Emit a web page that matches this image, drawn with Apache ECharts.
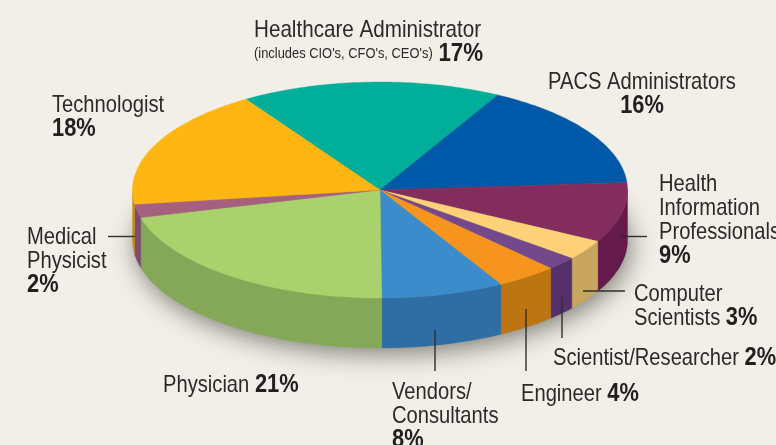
<!DOCTYPE html>
<html>
<head>
<meta charset="utf-8">
<style>
  html, body { margin: 0; padding: 0; background: #f1efe8; overflow: hidden; }
  #chart { width: 776px; height: 445px; }
</style>
<script src="https://cdn.jsdelivr.net/npm/echarts@6/dist/echarts.min.js"></script>
</head>
<body>
<div id="chart"></div>
<script>
// clockwise from the top-left edge of Healthcare Administrator
const categories = ["Healthcare Administrator", "PACS Administrators", "Health Information Professionals",
  "Computer Scientists", "Scientist/Researcher", "Engineer", "Vendors/Consultants", "Physician",
  "Medical Physicist", "Technologist"];
const shares = [17, 16, 9, 3, 2, 4, 8, 21, 2, 18];
const topColors = ["#00ae9a", "#0059a8", "#822d5e", "#ffd27a", "#73498c", "#f7941e", "#3c8ccc", "#a9d16c", "#a56080", "#ffb612"];
const wallColors = ["#008c7c", "#004787", "#641a4b", "#c8a65f", "#56306b", "#bd7412", "#2f6da5", "#84a858", "#7e4a6e", "#c48e12"];

/* ----------------------- PIE GEOMETRY ----------------------- */
const CX = 380, CY = 190, RX = 247.5, RY = 108, DEPTH = 50;
const START_DEG = 122.8;
const total = shares.reduce((a, b) => a + b, 0);

function sliceAngles(i) {
  const before = shares.slice(0, i).reduce((a, b) => a + b, 0);
  const toDeg = (v) => echarts.number.linearMap(v, [0, total], [START_DEG, START_DEG - 360]);
  return [toDeg(before), toDeg(before + shares[i])];
}

function rimPoint(deg, dy) {
  const t = (deg * Math.PI) / 180;
  return [CX + RX * Math.cos(t), CY - RY * Math.sin(t) + (dy || 0)];
}

function renderTop(params) {
  const [a, b] = sliceAngles(params.dataIndex);
  const pts = [[CX, CY]];
  for (let d = a; d > b; d -= 1) pts.push(rimPoint(d));
  pts.push(rimPoint(b));
  const c = topColors[params.dataIndex];
  return { type: "polygon", shape: { points: pts }, style: { fill: c, stroke: c, lineWidth: 0.4 } };
}

// outer wall: only the part of the rim facing the viewer (angles -180..0)
function renderWall(params) {
  let [a, b] = sliceAngles(params.dataIndex);
  a = Math.min(a, 0);
  b = Math.max(b, -180);
  if (a <= b) return null;
  const front = [], back = [];
  for (let d = a; d > b; d -= 1) {
    front.push(rimPoint(d));
    back.push(rimPoint(d, DEPTH));
  }
  front.push(rimPoint(b));
  back.push(rimPoint(b, DEPTH));
  const c = wallColors[params.dataIndex];
  return { type: "polygon", shape: { points: front.concat(back.reverse()) }, style: { fill: c, stroke: c, lineWidth: 0.4 } };
}

function renderBase() {
  return {
    type: "ellipse",
    shape: { cx: CX, cy: CY + DEPTH, rx: RX - 1, ry: RY - 1 },
    style: { fill: "#84a858", shadowBlur: 26, shadowColor: "rgba(40,40,30,0.6)", shadowOffsetX: 3, shadowOffsetY: 6 },
  };
}

/* ----------------------- LABELS ----------------------- */
// no narrow font is installed, so the text is squeezed horizontally instead
const NAME_FONT = '"Liberation Sans", sans-serif';
const rich = {
  n: { fontFamily: NAME_FONT, fontSize: 24, fill: "#2b2a29", lineHeight: 24 },
  s: { fontFamily: NAME_FONT, fontSize: 15, fill: "#2b2a29" },
  b: { fontFamily: NAME_FONT, fontSize: 26, fontWeight: "bold", fill: "#231f20", lineHeight: 24 },
};

function pct(i) { return "{b|" + shares[i] + "%}"; }

function label(x, y, lines, align, squeeze) {
  return {
    type: "text", x, y, scaleX: squeeze || 0.84, silent: true,
    style: { text: lines.join("\n"), rich, fontFamily: NAME_FONT, fontSize: 24, align: align || "left", verticalAlign: "middle", lineHeight: 24 },
  };
}

function leader(x1, y1, x2, y2) {
  return { type: "line", silent: true, shape: { x1, y1, x2, y2 }, style: { stroke: "#2f2e2c", lineWidth: 1.4 } };
}

const labelItems = [
  label(254, 42, ["{n|Healthcare Administrator}", "{s|(includes CIO's, CFO's, CEO's)} " + pct(0)], "left", 0.86),
  label(642, 94, ["{n|PACS Administrators}", pct(1)], "center"),
  label(659, 220, ["{n|Health}", "{n|Information}", "{n|Professionals}", pct(2)]),
  label(634, 306, ["{n|Computer}", "{n|Scientists} " + pct(3)]),
  label(553, 358, ["{n|Scientist/Researcher} " + pct(4)]),
  label(521, 394, ["{n|Engineer} " + pct(5)]),
  label(392, 416, ["{n|Vendors/}", "{n|Consultants}", pct(6)]),
  label(163, 385, ["{n|Physician} " + pct(7)]),
  label(27, 261, ["{n|Medical}", "{n|Physicist}", pct(8)]),
  label(52, 117, ["{n|Technologist}", pct(9)]),
  leader(108, 236.5, 135, 236.5),
  leader(620, 236.5, 647, 236.5),
  leader(583, 291, 625, 291),
  leader(562, 297, 562, 338),
  leader(526, 309, 526, 371),
  leader(435, 330, 435, 371),
];

/* ----------------------- CHART ----------------------- */
const chart = echarts.init(document.getElementById("chart"), null, { renderer: "canvas" });
const sliceData = shares.map((v, i) => ({ name: categories[i], value: [v] }));

chart.setOption({
  animation: false,
  backgroundColor: "#f1efe8",
  graphic: { elements: labelItems.map((e) => Object.assign({ z: 50 }, e)) },
  series: [
    { type: "custom", coordinateSystem: "none", silent: true, z: 1, data: [[0]], renderItem: renderBase },
    { type: "custom", coordinateSystem: "none", silent: true, z: 2, data: sliceData, renderItem: renderWall },
    { type: "custom", coordinateSystem: "none", silent: true, z: 3, data: sliceData, renderItem: renderTop },
  ],
});
</script>
</body>
</html>
